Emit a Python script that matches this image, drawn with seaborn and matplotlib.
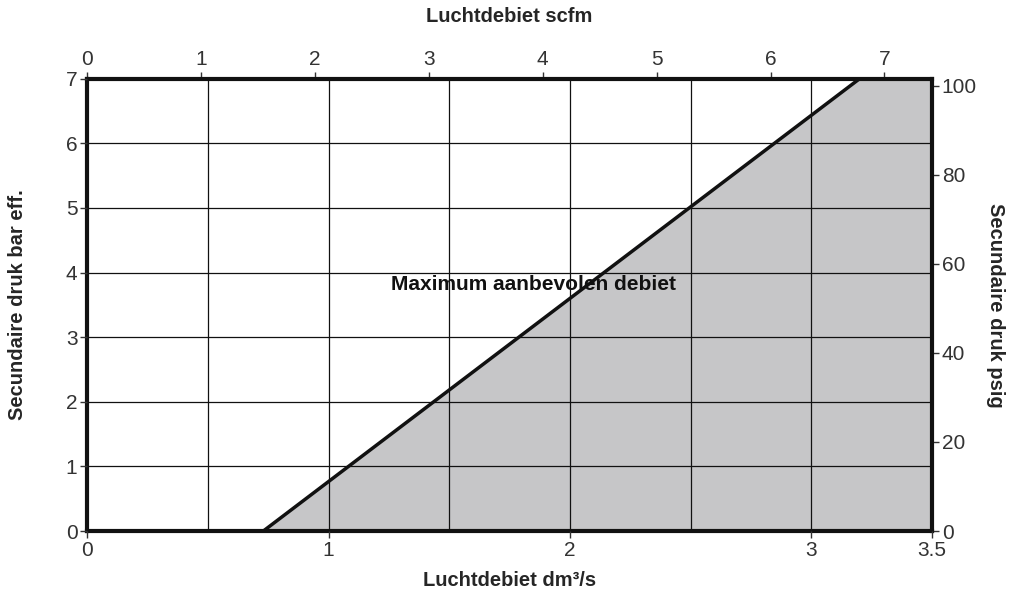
import numpy as np
import pandas as pd
import matplotlib
matplotlib.use('Agg')
import matplotlib.pyplot as plt
import seaborn as sns

# grens "maximum aanbevolen debiet" (dm3/s tegen bar)
grens_debiet = [0.73, 3.2]
grens_druk = [0.0, 7.0]

# gearceerd gebied rechts van de grens
vlak_debiet = [0.73, 3.2, 3.5]
vlak_druk = [0.0, 7.0, 7.0]

x_ticks = [0, 1, 2, 3, 3.5]
x_grid = [0.5, 1, 1.5, 2, 2.5, 3]
y_ticks = [0, 1, 2, 3, 4, 5, 6, 7]
scfm_ticks = [0, 1, 2, 3, 4, 5, 6, 7]
psig_ticks = [0, 20, 40, 60, 80, 100]

DM3_PER_SCFM = 0.4719
PSI_PER_BAR = 14.5038

sns.set_style('white')
plt.rcParams['font.family'] = ['Liberation Sans', 'DejaVu Sans']

df = pd.DataFrame({'debiet': grens_debiet, 'druk': grens_druk})

fig = plt.figure(figsize=(10.13, 5.92), dpi=100)
ax = fig.add_axes([0.086, 0.103, 0.834, 0.764])

ax.fill_between(vlak_debiet, 0, vlak_druk, color='#c6c6c8', lw=0, zorder=1)
sns.lineplot(data=df, x='debiet', y='druk', color='#111111', lw=2.5, ax=ax, zorder=3)

ax.set_xlim(0, 3.5)
ax.set_ylim(0, 7)
ax.set_xticks(x_ticks)
ax.set_xticklabels(['0', '1', '2', '3', '3.5'])
ax.set_yticks(y_ticks)
ax.xaxis.remove_overlapping_locs = False
ax.set_xticks(x_grid, minor=True)
ax.set_axisbelow(False)
ax.grid(False)
ax.grid(True, which='minor', axis='x', color='#111111', lw=0.9)
ax.grid(True, which='major', axis='y', color='#111111', lw=0.9)
ax.tick_params(which='minor', length=0)
ax.tick_params(which='major', direction='out', length=5, width=1, color='#333333',
               labelsize=15, labelcolor='#333333', pad=2)
ax.tick_params(axis='x', bottom=True)
ax.tick_params(axis='y', left=True)

for s in ax.spines.values():
    s.set_linewidth(3)
    s.set_color('#111111')
    s.set_visible(True)

ax.set_xlabel('Luchtdebiet dm³/s', fontsize=14.5, fontweight='bold', labelpad=8)
ax.set_ylabel('Secundaire druk bar eff.', fontsize=14.5, fontweight='bold', labelpad=28)

top = ax.secondary_xaxis('top', functions=(lambda x: x / DM3_PER_SCFM, lambda s: s * DM3_PER_SCFM))
top.set_xticks(scfm_ticks)
top.tick_params(direction='out', length=5, width=1, color='#333333',
                labelsize=15, labelcolor='#333333', pad=2)
top.set_xlabel('Luchtdebiet scfm', fontsize=14.5, fontweight='bold', labelpad=20)

right = ax.secondary_yaxis('right', functions=(lambda b: b * PSI_PER_BAR, lambda p: p / PSI_PER_BAR))
right.set_yticks(psig_ticks)
right.tick_params(direction='out', length=5, width=1, color='#333333',
                  labelsize=15, labelcolor='#333333', pad=2)
right.set_ylabel('Secundaire druk psig', fontsize=14.5, fontweight='bold',
                 rotation=270, labelpad=20)

ax.text(1.85, 3.82, 'Maximum aanbevolen debiet', fontsize=15, fontweight='bold',
        ha='center', va='center', color='#111111', zorder=4)

fig.savefig('out.png', dpi=100)
